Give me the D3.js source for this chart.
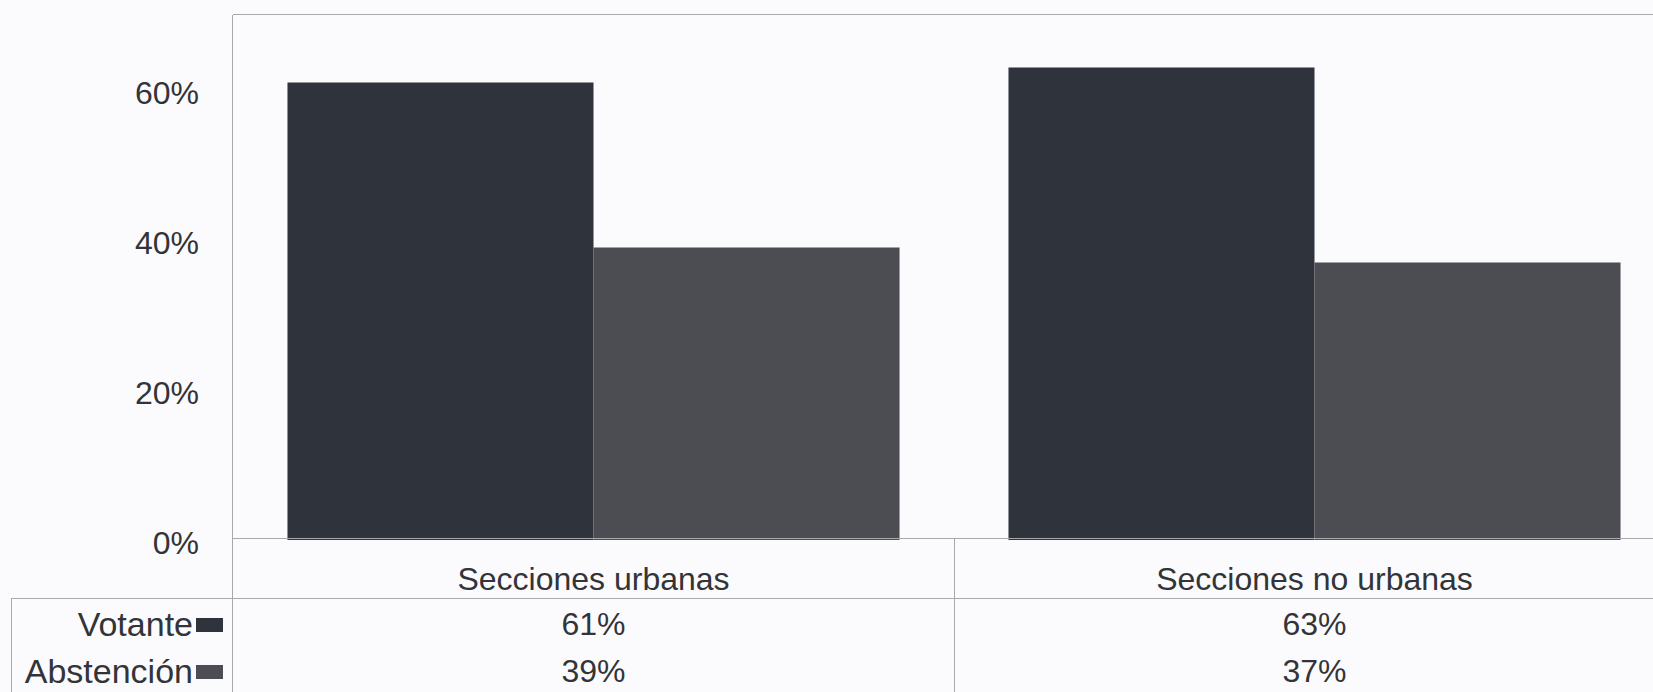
<!DOCTYPE html>
<html>
<head>
<meta charset="utf-8">
<script src="https://cdn.jsdelivr.net/npm/d3@7"></script>
<style>
  html, body { margin: 0; padding: 0; background: #fbfbfd; }
  svg { display: block; font-family: "Liberation Sans", Arial, sans-serif; }
</style>
</head>
<body>
<svg id="chart" width="1653" height="692"></svg>
<script>
const categories = ["Secciones urbanas", "Secciones no urbanas"];
const seriesNames = ["Votante", "Abstención"];
const votante = [61, 63];
const abstencion = [39, 37];
const yTicks = [0, 20, 40, 60];
const yTickLabels = ["0%", "20%", "40%", "60%"];
const valueLabels = [["61%", "63%"], ["39%", "37%"]];

const seriesValues = [votante, abstencion];
const colors = ["#2f333b", "#4b4d53"];
const textColor = "#333438";
const lineColor = "#a9a9ad";
const fontSize = 32;
const legendFontSize = 34;

const svg = d3.select("#chart");
const W = 1653, H = 692;

const plotLeft = 233, plotTop = 15, baseline = 540;
const bandW = 721;
const x0 = d3.scaleBand().domain(categories).range([plotLeft, plotLeft + bandW * categories.length]).padding(0);
const x1 = d3.scaleBand().domain(seriesNames).range([0, x0.bandwidth()]).paddingInner(0).paddingOuter(0.178);
const y = d3.scaleLinear().domain([0, 70]).range([baseline, plotTop]);

// bars
seriesNames.forEach((s, si) => {
  svg.append("g").selectAll("rect")
    .data(categories)
    .join("rect")
    .attr("x", c => x0(c) + x1(s))
    .attr("y", (c, ci) => y(seriesValues[si][ci]))
    .attr("width", x1.bandwidth())
    .attr("height", (c, ci) => baseline - y(seriesValues[si][ci]))
    .attr("fill", colors[si]);
});

// frame lines
const lines = svg.append("g").attr("stroke", lineColor).attr("stroke-width", 1).attr("shape-rendering", "crispEdges");
const rowLineY = 598;
lines.append("line").attr("x1", plotLeft).attr("x2", W).attr("y1", plotTop - 0.5).attr("y2", plotTop - 0.5);
lines.append("line").attr("x1", plotLeft).attr("x2", W).attr("y1", baseline - 1.5).attr("y2", baseline - 1.5);
lines.append("line").attr("x1", 11).attr("x2", W).attr("y1", rowLineY).attr("y2", rowLineY);
lines.append("line").attr("x1", plotLeft - 0.5).attr("x2", plotLeft - 0.5).attr("y1", plotTop - 0.5).attr("y2", H);
lines.append("line").attr("x1", 11.5).attr("x2", 11.5).attr("y1", rowLineY).attr("y2", H);
categories.slice(1).forEach(c => {
  lines.append("line").attr("x1", x0(c) + 0.5).attr("x2", x0(c) + 0.5).attr("y1", baseline - 1.5).attr("y2", H);
});

// y axis via d3.axisLeft, styled as plain labels
const yAxis = d3.axisLeft(y).tickValues(yTicks).tickFormat((d, i) => yTickLabels[i]).tickSize(0).tickPadding(0);
const gy = svg.append("g").attr("transform", `translate(199,2)`).call(yAxis);
gy.select(".domain").remove();
gy.selectAll("text").attr("font-size", fontSize).attr("fill", textColor)
  .attr("font-family", "'Liberation Sans', Arial, sans-serif").attr("dy", "0.35em");

// category labels
svg.append("g").selectAll("text").data(categories).join("text")
  .attr("x", c => x0(c) + x0.bandwidth() / 2)
  .attr("y", 579)
  .attr("text-anchor", "middle").attr("dy", "0.35em")
  .attr("font-size", fontSize).attr("fill", textColor)
  .text(c => c);

// table rows
const rowY = [624, 671];
seriesNames.forEach((s, si) => {
  svg.append("text").attr("x", 193).attr("y", rowY[si]).attr("dy", "0.35em")
    .attr("text-anchor", "end").attr("font-size", legendFontSize).attr("fill", textColor).text(s);
  svg.append("rect").attr("x", 196).attr("y", rowY[si] - 6).attr("width", 27).attr("height", 14)
    .attr("fill", colors[si]);
  svg.append("g").selectAll("text").data(categories).join("text")
    .attr("x", c => x0(c) + x0.bandwidth() / 2)
    .attr("y", rowY[si]).attr("dy", "0.35em")
    .attr("text-anchor", "middle").attr("font-size", fontSize).attr("fill", textColor)
    .text((c, ci) => valueLabels[si][ci]);
});
</script>
</body>
</html>
